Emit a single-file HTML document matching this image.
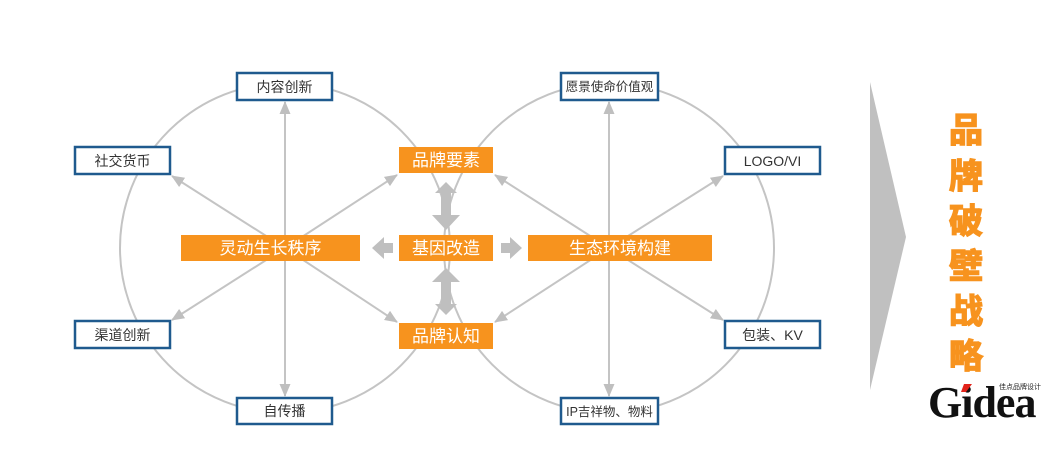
<!DOCTYPE html>
<html><head><meta charset="utf-8"><style>
html,body{margin:0;padding:0;background:#fff;}
svg{display:block;}
text{font-family:"Liberation Sans","Noto Sans CJK SC",sans-serif;}
</style></head><body>
<svg width="1052" height="474" viewBox="0 0 1052 474" xmlns="http://www.w3.org/2000/svg">
<defs>
<marker id="ah" markerWidth="13" markerHeight="11" refX="12" refY="5.5" orient="auto" markerUnits="userSpaceOnUse">
<path d="M0,0 L13,5.5 L0,11 Z" fill="#bfbfbf"/></marker>
</defs>
<g fill="none" stroke="#c4c4c4" stroke-width="2">
<circle cx="285" cy="248" r="165"/>
<circle cx="609" cy="248" r="165"/>
</g>
<g stroke="#c4c4c4" stroke-width="2" marker-end="url(#ah)">
<line x1="285" y1="248" x2="285" y2="102"/>
<line x1="285" y1="248" x2="285" y2="396"/>
<line x1="285" y1="248" x2="172" y2="176"/>
<line x1="285" y1="248" x2="172" y2="320"/>
<line x1="285" y1="248" x2="397" y2="175"/>
<line x1="285" y1="248" x2="397" y2="322"/>
<line x1="609" y1="248" x2="609" y2="102"/>
<line x1="609" y1="248" x2="609" y2="396"/>
<line x1="609" y1="248" x2="723" y2="176"/>
<line x1="609" y1="248" x2="723" y2="320"/>
<line x1="609" y1="248" x2="495" y2="175"/>
<line x1="609" y1="248" x2="495" y2="322"/>
</g>
<g fill="#bfbfbf">
<path d="M446,182 L457,193 L451,193 L451,215 L460,215 L446,230 L432,215 L441,215 L441,193 L435,193 Z"/>
<path d="M446,268 L460,282 L451,282 L451,304 L457,304 L446,315 L435,304 L441,304 L441,282 L432,282 Z"/>
<path d="M372,248 L384,237 L384,243 L393,243 L393,253 L384,253 L384,259 Z"/>
<path d="M522,248 L510,237 L510,243 L501,243 L501,253 L510,253 L510,259 Z"/>
</g>
<g fill="#fff" stroke="#1f5a8e" stroke-width="2.5">
<rect x="237" y="73" width="95" height="27"/>
<rect x="75" y="147" width="95" height="27"/>
<rect x="75" y="321" width="95" height="27"/>
<rect x="237" y="398" width="95" height="26"/>
<rect x="561" y="73" width="97" height="27"/>
<rect x="725" y="147" width="95" height="27"/>
<rect x="725" y="321" width="95" height="27"/>
<rect x="561" y="398" width="97" height="26"/>
</g>
<g font-size="14" fill="#333" text-anchor="middle">
<text x="284.5" y="92">内容创新</text>
<text x="122.5" y="166">社交货币</text>
<text x="122.5" y="340">渠道创新</text>
<text x="284.5" y="416">自传播</text>
<text x="609.5" y="91" font-size="12.5">愿景使命价值观</text>
<text x="772.5" y="166">LOGO/VI</text>
<text x="772.5" y="340">包装、KV</text>
<text x="609.5" y="416" font-size="12.5">IP吉祥物、物料</text>
</g>
<g fill="#f7931e">
<rect x="399" y="147" width="94" height="26"/>
<rect x="399" y="235" width="94" height="26"/>
<rect x="399" y="323" width="94" height="26"/>
<rect x="181" y="235" width="179" height="26"/>
<rect x="528" y="235" width="184" height="26"/>
</g>
<g font-size="17" fill="#fff" text-anchor="middle">
<text x="446" y="166">品牌要素</text>
<text x="446" y="254">基因改造</text>
<text x="446" y="342">品牌认知</text>
<text x="270.5" y="254">灵动生长秩序</text>
<text x="620" y="254">生态环境构建</text>
</g>
<polygon points="870,82 906,237 870,390" fill="#c0c0c0"/>
<g font-size="34" font-weight="bold" fill="#f7931e" stroke="#f7931e" stroke-width="1.5" text-anchor="middle">
<text x="966" y="142">品</text>
<text x="966" y="188">牌</text>
<text x="966" y="233">破</text>
<text x="966" y="278">壁</text>
<text x="966" y="323">战</text>
<text x="966" y="368">略</text>
</g>
<text x="928" y="417" style="font-family:'Liberation Serif',serif;font-weight:bold;font-size:44px" fill="#111" letter-spacing="-1">Gidea</text>
<path d="M964,384 L972,384 L966,392 L961,392 Z" fill="#e2231a"/>
<text x="999" y="389" font-size="7" fill="#222">佳点品牌设计</text>
</svg>
</body></html>
